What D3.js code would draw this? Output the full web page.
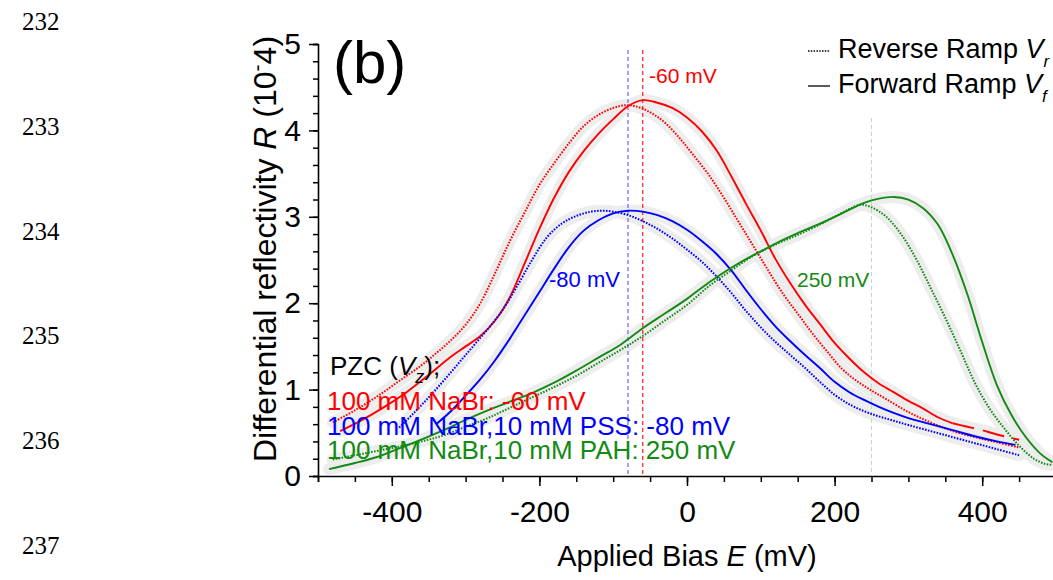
<!DOCTYPE html>
<html>
<head>
<meta charset="utf-8">
<script src="https://cdn.jsdelivr.net/npm/d3@7"></script>
<style>
  body { margin: 0; background: #fff; }
  svg { display: block; }
  text { font-family: "Liberation Sans", Arial, Helvetica, sans-serif; }
</style>
</head>
<body>
<svg id="chart" width="1053" height="580"></svg>
<script>
// ---- data: applied bias E (mV) and differential reflectivity R (1e-4) ----
const redFwdE = [-470,-440,-410,-380,-350,-320,-300,-280,-260,-240,-220,-200,-180,-160,-140,-120,-100,-80,-60,-40,-20,0,20,40,60,80,100,120,140,160,180,200,220,240,260,280,300,320,340,360,380,400,420,450];
const redFwdR = [0.52,0.65,0.80,0.97,1.17,1.38,1.50,1.62,1.80,2.07,2.46,2.86,3.22,3.52,3.76,3.96,4.13,4.28,4.35,4.32,4.26,4.15,3.99,3.77,3.47,3.15,2.84,2.51,2.23,1.98,1.76,1.54,1.36,1.20,1.07,0.97,0.87,0.78,0.68,0.61,0.57,0.53,0.48,0.42];
const redRevE = [-480,-450,-420,-390,-360,-340,-320,-300,-280,-260,-240,-220,-200,-180,-160,-140,-120,-100,-85,-70,-50,-30,-10,10,30,50,70,90,110,130,150,170,190,210,230,250,270,300,330,360,390,420,450];
const redRevR = [0.62,0.76,0.92,1.10,1.28,1.42,1.57,1.75,2.00,2.35,2.72,3.05,3.37,3.62,3.85,4.05,4.18,4.26,4.29,4.28,4.21,4.09,3.91,3.70,3.48,3.22,2.94,2.66,2.38,2.11,1.88,1.65,1.44,1.24,1.10,0.99,0.89,0.74,0.62,0.52,0.45,0.39,0.33];

const blueFwdE = [-340,-320,-300,-280,-260,-240,-220,-200,-180,-160,-140,-120,-100,-80,-60,-40,-20,0,20,40,60,80,100,120,140,160,180,200,220,240,260,280,300,330,360,390,420,445];
const blueFwdR = [0.60,0.75,0.93,1.12,1.34,1.59,1.86,2.13,2.40,2.65,2.84,2.96,3.04,3.07,3.06,3.02,2.95,2.85,2.72,2.57,2.38,2.15,1.93,1.73,1.56,1.40,1.25,1.09,0.97,0.88,0.80,0.73,0.67,0.60,0.53,0.46,0.40,0.36];
const blueRevE = [-390,-370,-350,-330,-310,-290,-270,-250,-230,-210,-190,-170,-150,-130,-115,-100,-80,-60,-40,-20,0,20,40,60,80,100,120,140,160,180,200,220,240,260,280,300,330,360,390,420,450];
const blueRevR = [0.56,0.73,0.91,1.10,1.30,1.50,1.70,1.92,2.20,2.50,2.76,2.92,3.01,3.06,3.07,3.06,3.02,2.95,2.86,2.75,2.62,2.48,2.31,2.12,1.91,1.72,1.55,1.40,1.25,1.09,0.94,0.83,0.75,0.69,0.64,0.59,0.52,0.45,0.38,0.31,0.24];

const greenFwdE = [-485,-450,-420,-390,-360,-330,-300,-270,-240,-210,-180,-150,-120,-90,-60,-30,0,20,40,60,80,100,120,150,180,210,240,260,280,300,320,340,360,380,400,420,440,460,480,495];
const greenFwdR = [0.08,0.15,0.22,0.32,0.42,0.53,0.65,0.76,0.86,0.96,1.08,1.22,1.37,1.52,1.71,1.88,2.05,2.18,2.30,2.41,2.51,2.60,2.69,2.81,2.92,3.04,3.16,3.21,3.23,3.20,3.10,2.91,2.56,2.10,1.55,1.05,0.70,0.44,0.25,0.16];
const greenRevE = [-480,-450,-420,-390,-360,-330,-300,-270,-240,-210,-180,-150,-120,-90,-60,-30,0,30,60,90,120,150,180,200,220,235,250,270,290,310,330,350,370,390,410,430,450,470,485,495];
const greenRevR = [0.19,0.24,0.29,0.34,0.40,0.47,0.57,0.67,0.79,0.91,1.03,1.16,1.31,1.46,1.62,1.80,1.98,2.20,2.38,2.55,2.68,2.79,2.91,3.00,3.09,3.14,3.11,3.00,2.80,2.52,2.18,1.83,1.46,1.08,0.78,0.55,0.35,0.20,0.14,0.13];

// PZC markers (mV)
const pzcValues = [-80, -60, 250];
const pzcColors = ["#7272ff", "#ff2a2a", "#bcdcbc"];

// axis ticks
const xMajorTicks = [-400, -200, 0, 200, 400];
const yMajorTicks = [0, 1, 2, 3, 4, 5];

const svg = d3.select("#chart");
svg.append("rect").attr("width", 1053).attr("height", 580).attr("fill", "#fff");

const x = d3.scaleLinear().domain([-500, 500]).range([318, 1056]);
const y = d3.scaleLinear().domain([0, 5]).range([476, 44]);

// manuscript line numbers down the left margin
const lineNumbers = ["232", "233", "234", "235", "236", "237"];
svg.selectAll("text.ln").data(lineNumbers).join("text")
  .attr("class", "ln")
  .attr("x", 22).attr("y", (d, i) => 30 + i * 104.8)
  .style("font-family", "'Liberation Serif', 'Times New Roman', serif")
  .style("font-size", "25px")
  .text(d => d);

const line = d3.line().x(d => x(d[0])).y(d => y(d[1])).curve(d3.curveCatmullRom.alpha(0.5));
const zip = (a, b) => a.map((v, i) => [v, b[i]]);

// tailFrom: bias above which the trace is drawn broken (sparse end of sweep)
const series = [
  { E: redRevE, R: redRevR, color: "#ff0000", dotted: true },
  { E: redFwdE, R: redFwdR, color: "#ff0000", dotted: false, tailFrom: 360 },
  { E: blueRevE, R: blueRevR, color: "#0000ff", dotted: true },
  { E: blueFwdE, R: blueFwdR, color: "#0000ff", dotted: false },
  { E: greenRevE, R: greenRevR, color: "#138a13", dotted: true },
  { E: greenFwdE, R: greenFwdR, color: "#138a13", dotted: false }
];

const plot = svg.append("g");

// light grey envelope of the raw sweeps
plot.selectAll("path.band").data(series).join("path")
  .attr("class", "band")
  .attr("d", s => line(zip(s.E, s.R)))
  .attr("fill", "none")
  .attr("stroke", "#ededed")
  .attr("stroke-width", 12)
  .attr("stroke-linecap", "round")
  .attr("stroke-linejoin", "round");

// vertical PZC markers
plot.selectAll("line.pzc").data(pzcValues).join("line")
  .attr("class", "pzc")
  .attr("x1", d => x(d)).attr("x2", d => x(d))
  .attr("y1", (d, i) => i === 2 ? 118 : 50)
  .attr("y2", y(0))
  .attr("stroke", (d, i) => pzcColors[i])
  .attr("stroke-width", (d, i) => i === 2 ? 1 : 1.3)
  .attr("stroke-dasharray", "4,3");

// smoothed reflectivity curves
const mainPts = s => zip(s.E, s.R).filter(p => s.tailFrom === undefined || p[0] <= s.tailFrom);
plot.selectAll("path.curve").data(series).join("path")
  .attr("class", "curve")
  .attr("d", s => line(mainPts(s)))
  .attr("fill", "none")
  .attr("stroke", s => s.color)
  .attr("stroke-width", s => s.dotted ? 2 : 1.9)
  .attr("stroke-dasharray", s => s.dotted ? "1.6,1.4" : null);

plot.selectAll("path.tail").data(series.filter(s => s.tailFrom !== undefined)).join("path")
  .attr("class", "tail")
  .attr("d", s => line(zip(s.E, s.R).filter(p => p[0] >= s.tailFrom)))
  .attr("fill", "none")
  .attr("stroke", s => s.color)
  .attr("stroke-width", 1.9)
  .attr("stroke-dasharray", "22,9");

// axes
const xAxis = svg.append("g").attr("transform", `translate(0,${y(0)})`);
xAxis.call(d3.axisBottom(x).tickValues(d3.range(-500, 501, 50)).tickSize(6).tickFormat(""));
xAxis.append("g").call(d3.axisBottom(x).tickValues(xMajorTicks).tickSize(10).tickPadding(15).tickFormat(d => String(d)))
  .call(g => g.select(".domain").remove());

const yAxis = svg.append("g").attr("transform", `translate(${x(-500)},0)`);
yAxis.call(d3.axisLeft(y).tickValues(d3.range(0, 5.001, 0.2)).tickSize(5).tickFormat(""));
yAxis.append("g").call(d3.axisLeft(y).tickValues(yMajorTicks).tickSize(9).tickPadding(8).tickFormat(d => String(d)))
  .call(g => g.select(".domain").remove());

svg.selectAll(".domain").attr("stroke", "#000").attr("stroke-width", 1.6);
svg.selectAll(".tick line").attr("stroke", "#000").attr("stroke-width", 1.5);
svg.selectAll(".tick text").attr("fill", "#000")
  .style("font-family", "'Liberation Sans', Arial, sans-serif").style("font-size", "30px");

// axis titles
const xt = svg.append("text")
  .attr("x", x(0)).attr("y", 566).attr("text-anchor", "middle")
  .style("font-size", "29px");
xt.append("tspan").text("Applied Bias ");
xt.append("tspan").style("font-style", "italic").text("E");
xt.append("tspan").text(" (mV)");

const yt = svg.append("text")
  .attr("transform", "translate(276,249) rotate(-90)")
  .attr("text-anchor", "middle")
  .style("font-size", "32px");
yt.append("tspan").text("Differential reflectivity ");
yt.append("tspan").style("font-style", "italic").text("R");
yt.append("tspan").text(" (10");
yt.append("tspan").attr("dy", -12).style("font-size", "21px").text("-");
yt.append("tspan").attr("dy", 12).text("4)");

// panel letter
svg.append("text").attr("x", 333).attr("y", 83).style("font-size", "60px").text("(b)");

// PZC value labels
svg.append("text").attr("x", 649).attr("y", 83).attr("fill", "#ff0000").style("font-size", "21px").text("-60 mV");
svg.append("text").attr("x", 549).attr("y", 287).attr("fill", "#0000ff").style("font-size", "22px").text("-80 mV");
svg.append("text").attr("x", 797).attr("y", 287).attr("fill", "#138a13").style("font-size", "21px").text("250 mV");

// PZC summary block
const pz = svg.append("text").attr("x", 330).attr("y", 375).style("font-size", "26px");
pz.append("tspan").text("PZC (");
pz.append("tspan").style("font-style", "italic").text("V");
pz.append("tspan").attr("dy", 8).style("font-size", "18px").style("font-style", "italic").text("z");
pz.append("tspan").attr("dy", -8).text(");");

const summary = [
  { text: "100 mM NaBr: -60 mV", color: "#ff0000" },
  { text: "100 mM NaBr,10 mM PSS: -80 mV", color: "#0000ff" },
  { text: "100 mM NaBr,10 mM PAH: 250 mV", color: "#138a13" }
];
svg.selectAll("text.sum").data(summary).join("text")
  .attr("class", "sum")
  .attr("x", 327).attr("y", (d, i) => 410 + i * 24.5)
  .attr("fill", d => d.color)
  .style("font-size", "26px")
  .text(d => d.text);

// ramp-direction legend
const legend = [
  { label: "Reverse Ramp ", sub: "r", dotted: true, yy: 51 },
  { label: "Forward Ramp ", sub: "f", dotted: false, yy: 86 }
];
const lg = svg.selectAll("g.leg").data(legend).join("g").attr("class", "leg");
lg.append("line")
  .attr("x1", 808).attr("x2", 830).attr("y1", d => d.yy).attr("y2", d => d.yy)
  .attr("stroke", "#000").attr("stroke-width", d => d.dotted ? 1.6 : 1.3)
  .attr("stroke-dasharray", d => d.dotted ? "1.5,1.3" : null);
const lt = lg.append("text").attr("x", 838).attr("y", d => d.yy + 7).style("font-size", "27px");
lt.append("tspan").text(d => d.label);
lt.append("tspan").style("font-style", "italic").text("V");
lt.append("tspan").attr("dy", 9).style("font-size", "17px").style("font-style", "italic").text(d => d.sub);
</script>
</body>
</html>
